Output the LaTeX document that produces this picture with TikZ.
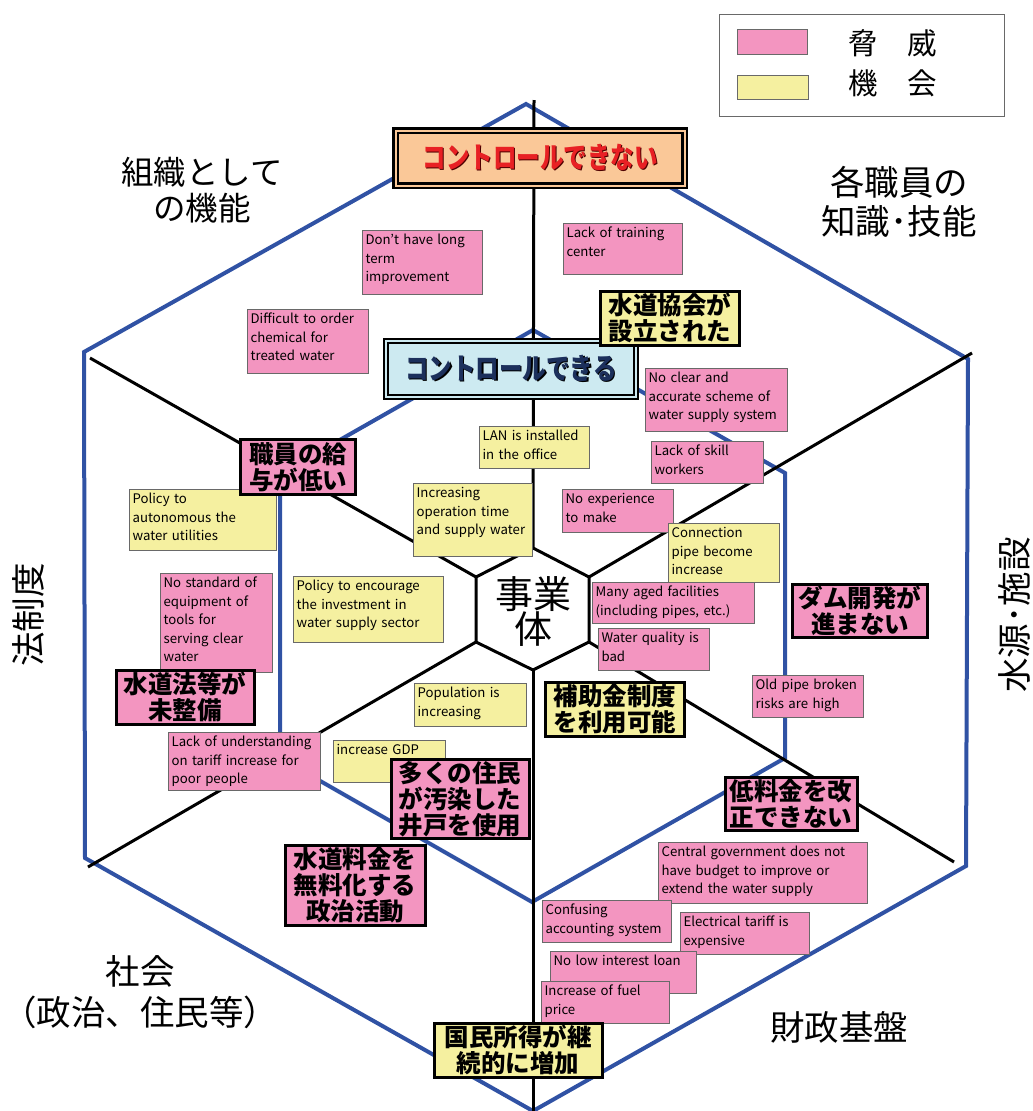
\documentclass[tikz,border=0pt]{standalone}
\usepackage{fontspec}
\setmainfont{Noto Sans CJK JP}
\newfontfamily\heavyfont{Noto Sans CJK JP Black}
\usepackage{graphicx}
\definecolor{threatpink}{RGB}{243,149,192}
\definecolor{chanceyellow}{RGB}{245,240,160}
\definecolor{ctrlorange}{RGB}{250,200,152}
\definecolor{ctrlblue}{RGB}{205,234,241}
\definecolor{hexblue}{RGB}{48,82,164}
\definecolor{boxgray}{RGB}{105,105,105}
\definecolor{ctrlred}{RGB}{232,32,36}
\definecolor{ctrlnavy}{RGB}{28,48,92}
\newcommand\smallfont{\fontsize{13.2}{18.5}\selectfont}
\newcommand\boxfont{\heavyfont\fontsize{24.5}{26}\selectfont\lineskiplimit=-20pt}
\newcommand\catfont{\fontsize{34.5}{40}\selectfont}
\newcommand\firmfont{\fontsize{38}{35}\selectfont\lineskiplimit=-20pt}
\newcommand\ctrlfont{\heavyfont\fontsize{23.5}{26}\selectfont}
\newcommand\ctrltext[3]{\scalebox{1}[1.25]{\makebox[0pt][l]{\hspace{1.4pt}\raisebox{-1.2pt}{\color{#2}#3}}\color{#1}#3}}
\begin{document}
\begin{tikzpicture}[x=1pt,y=-1pt,
  smallbox/.style={draw=boxgray, line width=1.2pt, anchor=north west, inner sep=3pt, align=left, font=\smallfont, text height=11pt},
  threat/.style={smallbox, fill=threatpink},
  chance/.style={smallbox, fill=chanceyellow},
  bigbox/.style={draw=black, line width=3pt, align=center, font=\boxfont, inner sep=0pt},
  bigthreat/.style={bigbox, fill=threatpink},
  bigchance/.style={bigbox, fill=chanceyellow},
  ctrlbox/.style={draw=black, line width=2.3pt, double distance=2pt, inner sep=0pt, font=\ctrlfont},
  catlabel/.style={font=\catfont, align=center},
  hexline/.style={draw=hexblue, line width=4pt, line join=miter},
  spoke/.style={line width=3pt}]
\useasboundingbox (0,0) rectangle (1033,1111);
\draw[hexline] (526,104) -- (968,359) -- (966,866) -- (533,1111) -- (85,858) -- (84,352) -- cycle;
\draw[hexline] (533,330) -- (785,473) -- (785,758) -- (532,902) -- (280,758) -- (280,474) -- cycle;
\coordinate (ctop) at (533,548);
\coordinate (cur) at (589,577);
\coordinate (clr) at (589,642);
\coordinate (cbot) at (533,670);
\coordinate (cll) at (476,642);
\coordinate (cul) at (476,577);
\coordinate (stop) at (534,100);
\coordinate (sur) at (972,353);
\coordinate (slr) at (954,862);
\coordinate (sbot) at (533,1111);
\coordinate (sll) at (88,867);
\coordinate (sul) at (90,358);
\foreach \a/\b in {ctop/stop,cur/sur,clr/slr,cbot/sbot,cll/sll,cul/sul}
\draw[spoke] (\a) -- (\b);
\draw[spoke, line join=miter] (ctop) -- (cur) -- (clr) -- (cbot) -- (cll) -- (cul) -- cycle;
\node[font=\firmfont, align=center] (firm) at (533,611) {事業\\体};
\node[draw=boxgray, line width=1.2pt, minimum width=285, minimum height=102, anchor=north west, inner sep=0pt] (legend) at (719,14) {};
\node[draw=boxgray, line width=1.2pt, fill=threatpink, minimum width=70, minimum height=25, anchor=north west, inner sep=0pt] (threatkey) at (737,29) {};
\node[draw=boxgray, line width=1.2pt, fill=chanceyellow, minimum width=71, minimum height=24, anchor=north west, inner sep=0pt] (chancekey) at (737,75) {};
\node[font=\fontsize{29.5}{30}\selectfont] (threatname) at (893,43) {脅　威};
\node[font=\fontsize{29.5}{30}\selectfont] (chancename) at (893,83) {機　会};
\node[catlabel, font=\fontsize{32.5}{36}\selectfont] (org) at (202,190) {組織として\\の機能};
\node[catlabel, font=\fontsize{34.5}{39}\selectfont] (staff) at (899,202) {各職員の\\知識･技能};
\node[catlabel, rotate=90] (law) at (28,615) {法制度};
\node[catlabel, rotate=90] (source) at (1014,615) {水源･施設};
\node[catlabel, font=\fontsize{34.5}{41}\selectfont] (society) at (140,992) {社会\\（政治、住民等）};
\node[catlabel] (finance) at (839,1027) {財政基盤};
\node[ctrlbox, fill=ctrlorange, double=ctrlorange, minimum width=289, minimum height=55] (nocontrol) at (540,158) {\ctrltext{ctrlred}{black!70!red}{コントロールできない}};
\node[ctrlbox, fill=ctrlblue, double=ctrlblue, minimum width=250, minimum height=56] (control) at (511,369) {\ctrltext{ctrlnavy}{black}{コントロールできる}};
\node[bigchance, minimum width=139, minimum height=54] (assoc) at (670,318) {水道協会が\\設立された};
\node[threat, text width=114pt, text depth=47pt] (dontlong) at (362,230) {Don't have long\\term\\improvement};
\node[threat, text width=115pt, text depth=47pt] (chemical) at (247,309) {Difficult to order\\chemical for\\treated water};
\node[threat, text width=113pt, text depth=34pt] (training) at (563,223) {Lack of training\\center};
\node[threat, text width=136pt, text depth=46pt] (scheme) at (645,368) {No clear and\\accurate scheme of\\water supply system};
\node[threat, text width=106pt, text depth=25pt] (skill) at (651,441) {Lack of skill\\workers};
\node[threat, text width=105pt, text depth=26pt] (noexp) at (562,489) {No experience\\to make};
\node[chance, text width=104pt, text depth=25pt] (lan) at (479,426) {LAN is installed\\in the office};
\node[chance, text width=113pt, text depth=56pt] (optime) at (413,483) {Increasing\\operation time\\and supply water};
\node[chance, text width=141pt, text depth=44pt] (autonomy) at (129,489) {Policy to\\autonomous the\\water utilities};
\node[chance, text width=144pt, text depth=49pt] (invest) at (293,576) {Policy to encourage\\the investment in\\water supply sector};
\node[threat, text width=106pt, text depth=82pt] (standard) at (160,573) {No standard of\\equipment of\\tools for\\serving clear\\water};
\node[chance, text width=106pt, text depth=26pt] (population) at (414,683) {Population is\\increasing};
\node[chance, text width=106pt, text depth=25pt] (gdp) at (333,740) {increase GDP};
\node[threat, text width=146pt, text depth=41pt] (tariffpoor) at (168,732) {Lack of understanding\\on tariff increase for\\poor people};
\node[chance, text width=105pt, text depth=42pt] (connection) at (668,523) {Connection\\pipe become\\increase};
\node[threat, text width=156pt, text depth=24pt] (aged) at (592,582) {Many aged facilities\\(including pipes, etc.)};
\node[threat, text width=105pt, text depth=25pt] (quality) at (598,628) {Water quality is\\bad};
\node[threat, text width=105pt, text depth=25pt] (oldpipe) at (752,675) {Old pipe broken\\risks are high};
\node[threat, text width=203pt, text depth=44pt] (budget) at (658,842) {Central government does not\\have budget to improve or\\extend the water supply};
\node[threat, text width=123pt, text depth=25pt] (accounting) at (542,900) {Confusing\\accounting system};
\node[threat, text width=123pt, text depth=25pt] (electric) at (680,912) {Electrical tariff is\\expensive};
\node[threat, text width=140pt, text depth=25pt] (loan) at (550,951) {No low interest loan};
\node[threat, text width=122pt, text depth=25pt] (fuel) at (541,981) {Increase of fuel\\price};
\node[bigthreat, minimum width=115, minimum height=55] (salary) at (298,467) {職員の給\\与が低い};
\node[bigthreat, minimum width=138, minimum height=54] (waterlaw) at (185,697) {水道法等が\\未整備};
\node[bigthreat, minimum width=138, minimum height=79] (wells) at (460,799) {多くの住民\\が汚染した\\井戸を使用};
\node[bigthreat, minimum width=140, minimum height=80] (freewater) at (355,885) {水道料金を\\無料化する\\政治活動};
\node[bigchance, minimum width=139, minimum height=54] (subsidy) at (615,709) {補助金制度\\を利用可能};
\node[bigthreat, minimum width=135, minimum height=53] (dam) at (860,611) {ダム開発が\\進まない};
\node[bigthreat, minimum width=132, minimum height=53] (lowfee) at (791,804) {低料金を改\\正できない};
\node[bigchance, minimum width=168, minimum height=54] (income) at (518,1050) {国民所得が継\\続的に増加};
\end{tikzpicture}
\end{document}
